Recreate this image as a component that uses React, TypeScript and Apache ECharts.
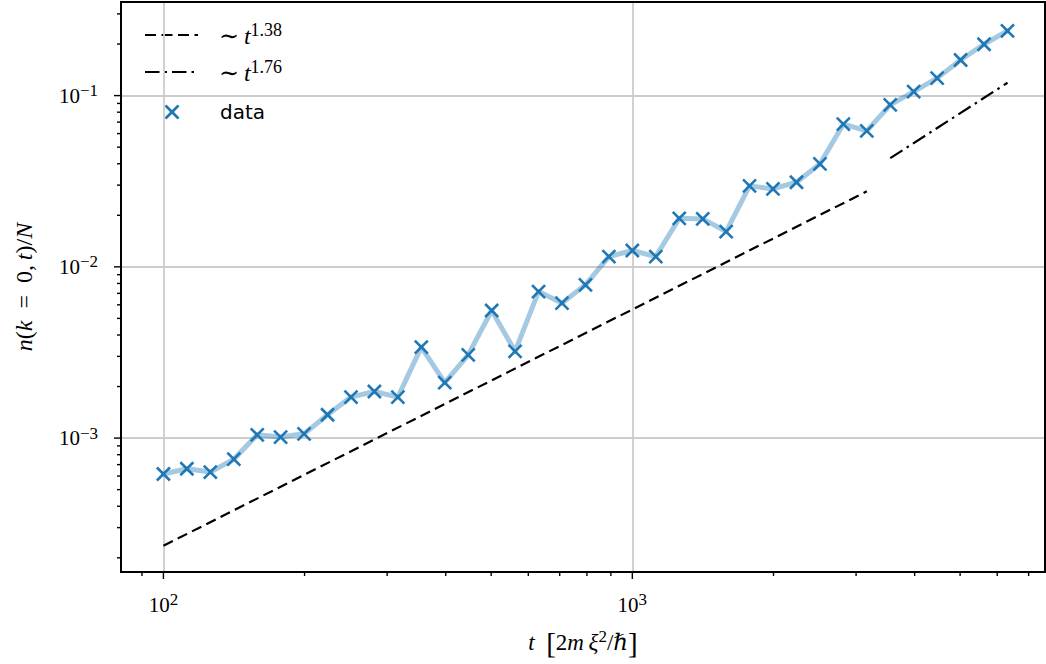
import React, { useEffect, useRef } from "react";
import * as echarts from "echarts";

// Time samples t [2mξ²/ℏ] (20 per decade)
const T = [
  100, 112.2, 125.9, 141.3, 158.5, 177.8, 199.5, 223.9, 251.2, 281.8,
  316.2, 354.8, 398.1, 446.7, 501.2, 562.3, 631.0, 707.9, 794.3, 891.3,
  1000, 1122, 1259, 1413, 1585, 1778, 1995, 2239, 2512, 2818,
  3162, 3548, 3981, 4467, 5012, 5623, 6310,
];

// Condensate occupation n(k = 0, t)/N
const N_K0 = [
  6.17e-4, 6.62e-4, 6.33e-4, 7.53e-4, 1.045e-3, 1.014e-3, 1.059e-3, 1.368e-3, 1.735e-3, 1.871e-3,
  1.735e-3, 3.4e-3, 2.11e-3, 3.06e-3, 5.56e-3, 3.21e-3, 7.17e-3, 6.14e-3, 7.85e-3, 1.148e-2,
  1.245e-2, 1.148e-2, 1.92e-2, 1.905e-2, 1.607e-2, 2.97e-2, 2.85e-2, 3.12e-2, 3.99e-2, 6.81e-2,
  6.22e-2, 8.83e-2, 0.1054, 0.1265, 0.1614, 0.1995, 0.2388,
];

// Power-law guides (end points)
const FIT_138 = [
  [100, 2.35e-4],
  [3162, 0.0276],
];
const FIT_176 = [
  [3548, 0.0431],
  [6310, 0.1188],
];

// Axis ranges and ticks
const X_MIN = 81.2;
const X_MAX = 7586;
const Y_MIN = 1.652e-4;
const Y_MAX = 0.352;
const X_MAJOR = [100, 1000];
const X_MINOR = [90, 200, 300, 400, 500, 600, 700, 800, 900, 2000, 3000, 4000, 5000, 6000, 7000];
const Y_MAJOR = [1e-3, 1e-2, 1e-1];
const Y_MINOR = [
  2e-4, 3e-4, 4e-4, 5e-4, 6e-4, 7e-4, 8e-4, 9e-4,
  2e-3, 3e-3, 4e-3, 5e-3, 6e-3, 7e-3, 8e-3, 9e-3,
  2e-2, 3e-2, 4e-2, 5e-2, 6e-2, 7e-2, 8e-2, 9e-2,
  2e-1, 3e-1,
];

const LEGEND_ITEMS = ["1.38", "1.76", "data"];

const BLUE = "#1f77b4";
const SERIF = "'Liberation Serif', 'DejaVu Serif', serif";
const SANS = "'DejaVu Sans', sans-serif";

const GRID = { left: 121, top: 2, width: 924, height: 570 };
const MARK = 6.5; // half size of the × marker
const MARK_W = 2.6;

const mathRich = (size: number, supSize: number) => ({
  r: { fontFamily: SERIF, fontSize: size, color: "#000", lineHeight: size + 6 },
  i: { fontFamily: SERIF, fontStyle: "italic", fontSize: size, color: "#000", lineHeight: size + 6 },
  br: { fontFamily: SERIF, fontSize: size + 6, color: "#000", lineHeight: size + 6 },
  sup: {
    fontFamily: SERIF,
    fontSize: supSize,
    color: "#000",
    verticalAlign: "top",
    lineHeight: supSize + 1,
  },
});

const powerLabel = (v: number) => {
  const l = Math.log10(v);
  const e = Math.round(l);
  if (Math.abs(l - e) > 1e-6) return "";
  return `{r|10}{sup|${e < 0 ? "\u2212" + -e : e}}`;
};

const cross = (cx: number, cy: number) => ({
  type: "group",
  children: [
    {
      type: "line",
      shape: { x1: cx - MARK, y1: cy - MARK, x2: cx + MARK, y2: cy + MARK },
      style: { stroke: BLUE, lineWidth: MARK_W },
    },
    {
      type: "line",
      shape: { x1: cx + MARK, y1: cy - MARK, x2: cx - MARK, y2: cy + MARK },
      style: { stroke: BLUE, lineWidth: MARK_W },
    },
  ],
});

export default function App() {
  const ref = useRef<HTMLDivElement>(null);

  useEffect(() => {
    if (!ref.current) return;
    const chart = echarts.init(ref.current, undefined, { renderer: "svg" });

    const points = T.map((t, i) => [t, N_K0[i]]);
    const xTicks = [
      ...X_MAJOR.map((v) => [v, Y_MIN, 7]),
      ...X_MINOR.map((v) => [v, Y_MIN, 4]),
    ];
    const yTicks = [
      ...Y_MAJOR.map((v) => [X_MIN, v, 7]),
      ...Y_MINOR.map((v) => [X_MIN, v, 4]),
    ];

    const lx0 = 145;
    const lx1 = 198;
    const rows = [35, 72, 112];

    const option: any = {
      animation: false,
      backgroundColor: "#fff",
      grid: { ...GRID, containLabel: false, outerBoundsMode: "none" },
      xAxis: {
        type: "log",
        logBase: 10,
        min: X_MIN,
        max: X_MAX,
        axisLine: { show: false },
        axisTick: { show: false },
        minorTick: { show: false },
        splitLine: {
          show: true,
          showMinLine: false,
          showMaxLine: false,
          lineStyle: { color: "#cccccc", width: 1.8 },
        },
        axisLabel: {
          margin: 19,
          formatter: powerLabel,
          rich: mathRich(21, 17),
        },
        name: "{i|t}{r|\u2002}{br|[}{r|2}{i|m\u2009ξ}{sup|2}{r|/}{i|ℏ}{br|]}",
        nameLocation: "middle",
        nameGap: 56,
        nameTextStyle: { rich: mathRich(23, 17) },
      },
      yAxis: {
        type: "log",
        logBase: 10,
        min: Y_MIN,
        max: Y_MAX,
        axisLine: { show: false },
        axisTick: { show: false },
        minorTick: { show: false },
        splitLine: {
          show: true,
          showMinLine: false,
          showMaxLine: false,
          lineStyle: { color: "#cccccc", width: 1.8 },
        },
        axisLabel: {
          margin: 23,
          formatter: powerLabel,
          rich: mathRich(21, 17),
        },
        name: "{i|n}{r|(}{i|k}{r|\u2002=\u20020,\u2009}{i|t}{r|)/}{i|N}",
        nameLocation: "middle",
        nameGap: 82,
        nameTextStyle: { rich: mathRich(24, 17) },
      },
      series: [
        {
          name: "band",
          type: "line",
          data: points,
          symbol: "none",
          lineStyle: { color: "rgba(31,119,180,0.4)", width: 5, join: "round", cap: "round" },
          silent: true,
          z: 2,
        },
        {
          name: "data",
          type: "custom",
          data: points,
          encode: { x: 0, y: 1 },
          renderItem: (params: any, api: any) => {
            const p = api.coord([api.value(0), api.value(1)]);
            return cross(p[0], p[1]);
          },
          z: 3,
        },
        {
          name: "t^1.38",
          type: "line",
          data: FIT_138,
          symbol: "none",
          lineStyle: { color: "#000", width: 2.2, type: [10.5, 5.5], cap: "butt" },
          z: 4,
        },
        {
          name: "t^1.76",
          type: "line",
          data: FIT_176,
          symbol: "none",
          lineStyle: { color: "#000", width: 2.2, type: [14.5, 5, 2.5, 5], cap: "butt" },
          z: 4,
        },
        {
          name: "xticks",
          type: "custom",
          clip: false,
          silent: true,
          data: xTicks,
          encode: { x: 0, y: 1 },
          renderItem: (params: any, api: any) => {
            const p = api.coord([api.value(0), api.value(1)]);
            const len = api.value(2);
            return {
              type: "line",
              shape: { x1: p[0], y1: p[1], x2: p[0], y2: p[1] + len },
              style: { stroke: "#000", lineWidth: 1.4 },
            };
          },
          z: 10,
        },
        {
          name: "yticks",
          type: "custom",
          clip: false,
          silent: true,
          data: yTicks,
          encode: { x: 0, y: 1 },
          renderItem: (params: any, api: any) => {
            const p = api.coord([api.value(0), api.value(1)]);
            const len = api.value(2);
            return {
              type: "line",
              shape: { x1: p[0] - len, y1: p[1], x2: p[0], y2: p[1] },
              style: { stroke: "#000", lineWidth: 1.4 },
            };
          },
          z: 10,
        },
      ],
      graphic: [
        {
          type: "rect",
          z: 50,
          silent: true,
          shape: { x: GRID.left, y: GRID.top, width: GRID.width, height: GRID.height },
          style: { fill: "none", stroke: "#000", lineWidth: 2 },
        },
        {
          type: "group",
          z: 60,
          children: [
            {
              type: "rect",
              shape: { x: 133, y: 15, width: 174, height: 120 },
              style: { fill: "#fff", stroke: "none" },
            },
            {
              type: "line",
              shape: { x1: lx0, y1: rows[0], x2: lx1, y2: rows[0] },
              style: { stroke: "#000", lineWidth: 2.2, lineDash: [11, 5.5] },
            },
            {
              type: "line",
              shape: { x1: lx0, y1: rows[1], x2: lx1, y2: rows[1] },
              style: { stroke: "#000", lineWidth: 2.2, lineDash: [14.5, 5, 2.5, 5] },
            },
            cross(172, rows[2]),
            {
              type: "text",
              x: 219,
              y: rows[0] + 1,
              style: {
                text: `{r|∼\u2009}{i|t}{sup|${LEGEND_ITEMS[0]}}`,
                rich: mathRich(24, 18),
                verticalAlign: "middle",
                align: "left",
              },
            },
            {
              type: "text",
              x: 219,
              y: rows[1] + 1,
              style: {
                text: `{r|∼\u2009}{i|t}{sup|${LEGEND_ITEMS[1]}}`,
                rich: mathRich(24, 18),
                verticalAlign: "middle",
                align: "left",
              },
            },
            {
              type: "text",
              x: 220,
              y: rows[2],
              style: {
                text: LEGEND_ITEMS[2],
                fontFamily: SANS,
                fontSize: 20,
                fill: "#000",
                verticalAlign: "middle",
                align: "left",
              },
            },
          ],
        },
      ],
    };

    chart.setOption(option);
    return () => chart.dispose();
  }, []);

  return (
    <div
      ref={ref}
      style={{ position: "absolute", left: 0, top: 0, width: 1046, height: 664, background: "#fff" }}
    />
  );
}
